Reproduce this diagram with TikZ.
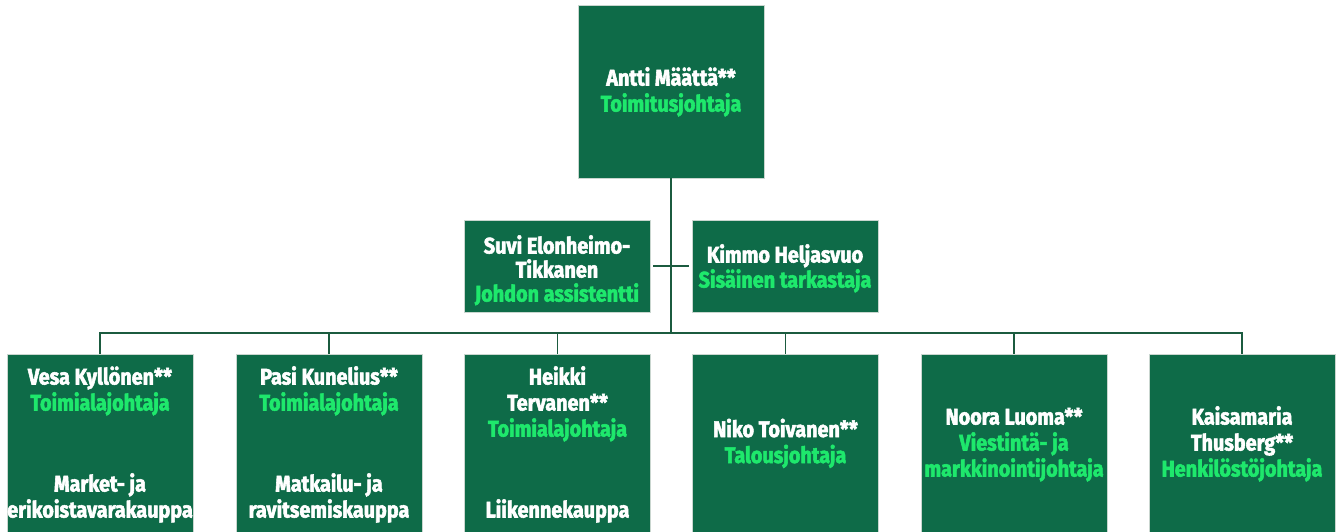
\documentclass[tikz,border=0pt]{standalone}
\usepackage{fontspec}
\setmainfont{Fira Sans}[FakeStretch=0.88, BoldFeatures={FakeBold=2.4}]
\definecolor{boxgreen}{HTML}{0E6B48}
\definecolor{linegreen}{HTML}{1B5B3F}
\definecolor{titlegreen}{HTML}{1EE86C}
\definecolor{boxedge}{HTML}{C9D6CF}
\tikzset{
  orgbox/.style={draw=boxedge, line width=0.8pt, fill=boxgreen, anchor=north west, inner sep=0pt, outer sep=0pt},
  orgtext/.style={text=white, font=\bfseries\fontsize{22.5}{26}\selectfont, align=center, anchor=base, inner sep=0pt},
  conn/.style={draw=linegreen, line width=1.8pt},
}
\newcommand{\ttl}[1]{\textcolor{titlegreen}{#1}}
\begin{document}
\begin{tikzpicture}[x=1pt,y=-1pt]
\useasboundingbox (0,0) rectangle (1341,531);
% boxes
\node[orgbox, minimum width=186pt, minimum height=173pt] (ceo) at (578,5) {};
\node[orgbox, minimum width=186pt, minimum height=92pt] (ml) at (464,220) {};
\node[orgbox, minimum width=186pt, minimum height=92pt] (mr) at (692,220) {};
\foreach \n/\x in {b1/7,b2/236,b3/464.5,b4/692.5,b5/921,b6/1149}{
  \node[orgbox, minimum width=186pt, minimum height=180pt] (\n) at (\x,354) {};
}
% connectors
\coordinate (bus) at (671,333);
\draw[conn] (ceo.south) -- (bus);
\draw[conn, shorten <=3pt, shorten >=3pt] (ml.east) -- (mr.west);
\foreach \n in {b1,b2,b3,b4,b5,b6}{
  \draw[conn] (bus) -| (\n.north);
}
% texts (anchored at the baseline of the last line)
\node[orgtext] (tceo) at (671,111.5) {Antti Määttä**\\\ttl{Toimitusjohtaja}};
\node[orgtext, font=\bfseries\fontsize{22.5}{24}\selectfont] (tml) at (557,301.5) {Suvi Elonheimo-\\Tikkanen\\\ttl{Johdon assistentti}};
\node[orgtext, font=\bfseries\fontsize{22.5}{25}\selectfont] (tmr) at (785,287.5) {Kimmo Heljasvuo\\\ttl{Sisäinen tarkastaja}};
\node[orgtext] (t1) at (100,410.5) {Vesa Kyllönen**\\\ttl{Toimialajohtaja}};
\node[orgtext] (t1b) at (100,517.5) {Market- ja\\erikoistavarakauppa};
\node[orgtext] (t2) at (329,410.5) {Pasi Kunelius**\\\ttl{Toimialajohtaja}};
\node[orgtext] (t2b) at (329,517.5) {Matkailu- ja\\ravitsemiskauppa};
\node[orgtext] (t3) at (557.5,436.5) {Heikki\\Tervanen**\\\ttl{Toimialajohtaja}};
\node[orgtext] (t3b) at (557.5,517.5) {Liikennekauppa};
\node[orgtext] (t4) at (785.5,463) {Niko Toivanen**\\\ttl{Talousjohtaja}};
\node[orgtext] (t5) at (1014,476.5) {Noora Luoma**\\\ttl{Viestintä- ja}\\\ttl{markkinointijohtaja}};
\node[orgtext] (t6) at (1242,476.5) {Kaisamaria\\Thusberg**\\\ttl{Henkilöstöjohtaja}};
\end{tikzpicture}
\end{document}
